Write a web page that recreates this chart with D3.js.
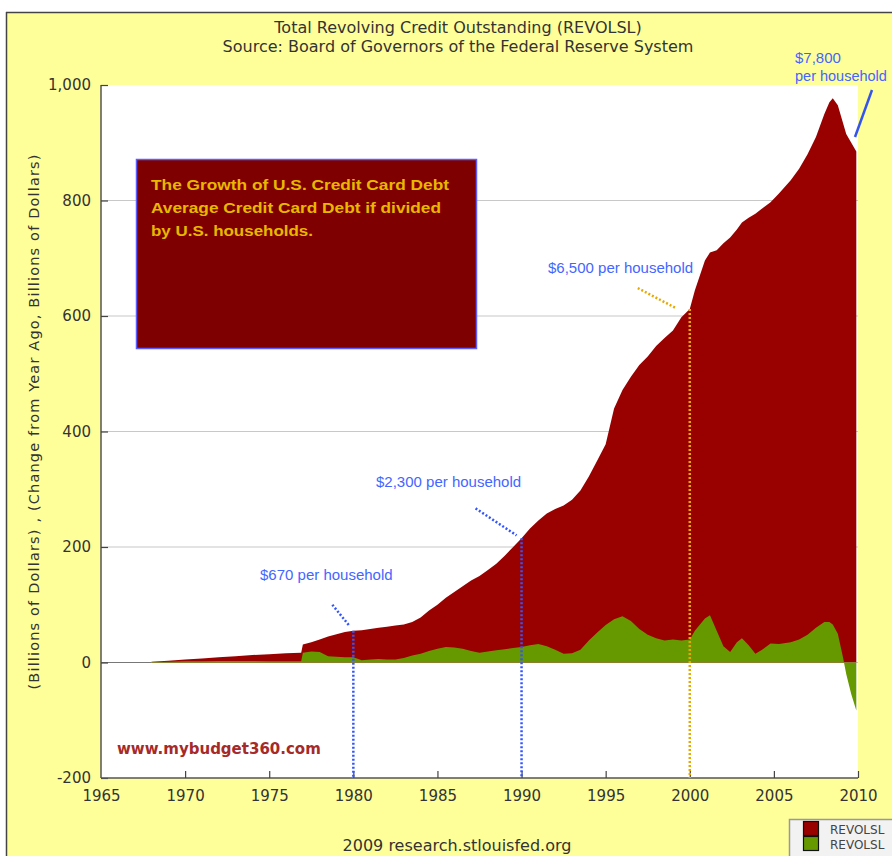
<!DOCTYPE html>
<html><head><meta charset="utf-8">
<script src="https://cdnjs.cloudflare.com/ajax/libs/d3/7.8.5/d3.min.js"></script>
<style>html,body{margin:0;padding:0;background:#fff;overflow:hidden;}svg{display:block;}</style>
</head><body>
<script>
// ---- data ----
const dates = [1968.0,1969.0,1970.0,1971.0,1972.0,1973.0,1974.0,1975.0,1976.0,1976.9,
  1977.0,1977.5,1978.0,1978.5,1979.0,1979.5,1980.0,1980.5,1981.0,1981.5,1982.0,1982.5,1983.0,1983.5,
  1984.0,1984.5,1985.0,1985.5,1986.0,1986.5,1987.0,1987.5,1988.0,1988.5,1989.0,1989.5,1990.0,1990.5,
  1991.0,1991.5,1992.0,1992.5,1993.0,1993.5,1994.0,1994.5,1995.0,1995.5,1996.0,1996.5,1997.0,1997.5,
  1998.0,1998.5,1999.0,1999.5,2000.0,2000.3,2000.9,2001.2,2001.6,2002.0,2002.4,2002.8,2003.1,2003.5,
  2003.9,2004.3,2004.8,2005.3,2006.0,2006.5,2007.0,2007.5,2008.0,2008.3,2008.5,2008.8,2009.1,2009.3,2009.6,2009.9];
const revolsl = [1.5,3,5,7,9,11,13,14.5,16,17,
  31,35,40,45,49,53,55,56,58,60,62,64,66,70,
  78,90,100,112,122,132,142,150,160,171,185,200,215,232,
  246,258,266,272,282,298,322,350,378,440,472,495,515,530,
  548,562,575,598,612,644,696,710,714,726,736,750,762,770,
  777,786,797,812,835,855,880,910,950,970,977,965,935,915,900,885];
const changeYoY = [1,1.5,2,2,2.5,2.5,2.5,2,2,2,
  17,19,18,11,10,9,9,4,5,6,5,5,8,12,
  15,20,24,27,26,24,20,17,19,21,23,25,27,30,
  32,28,22,15,16,22,38,52,65,75,80,72,58,48,
  42,38,40,38,40,55,76,82,55,28,18,35,42,30,
  15,22,33,32,35,40,48,60,70,70,66,50,10,-20,-55,-83];
const xTicks = [1965,1970,1975,1980,1985,1990,1995,2000,2005,2010];
const yTicks = [-200,0,200,400,600,800,1000];
const annYears = [1980,1990,2000];
const annValues = [55,215,612];
const annLabels = ["$670 per household","$2,300 per household","$6,500 per household"];
const titleLines = ["Total Revolving Credit Outstanding (REVOLSL)","Source: Board of Governors of the Federal Reserve System"];
const boxLines = ["The Growth of U.S. Credit Card Debt","Average Credit Card Debt if divided","by U.S. households."];
const legendLabels = ["REVOLSL","REVOLSL"];

// ---- drawing ----
const W = 892, H = 856;
const svg = d3.select("body").append("svg").attr("width", W).attr("height", H);
const FONT = "'DejaVu Sans', Verdana, sans-serif";
const AFONT = "'Liberation Sans', Arial, sans-serif";

svg.append("rect").attr("x",0).attr("y",0).attr("width",W).attr("height",H).attr("fill","#fff");
svg.append("rect").attr("x",6).attr("y",12).attr("width",W-6).attr("height",H-12).attr("fill","#ffff99");
svg.append("line").attr("x1",6).attr("x2",W).attr("y1",12.5).attr("y2",12.5).attr("stroke","#444").attr("stroke-width",1.5);
svg.append("line").attr("x1",6.5).attr("x2",6.5).attr("y1",12).attr("y2",H).attr("stroke","#444").attr("stroke-width",1.5);

const L = 101, R = 858, T = 85, B = 778;
const x = d3.scaleLinear().domain([1965,2010]).range([L,R]);
const y = d3.scaleLinear().domain([-200,1000]).range([B,T]);

svg.append("rect").attr("x",L).attr("y",T).attr("width",R-L).attr("height",B-T).attr("fill","#fff");

// title
svg.selectAll("text.title").data(titleLines).join("text")
  .attr("x",458).attr("y",(d,i)=>33+i*19).attr("text-anchor","middle")
  .attr("font-family",FONT).attr("font-size",16).attr("fill","#333").text(d=>d);

// grid
svg.append("g").selectAll("line").data(yTicks.filter(v=>v>-200 && v<1000)).join("line")
  .attr("x1",L).attr("x2",R).attr("y1",d=>y(d)).attr("y2",d=>y(d))
  .attr("stroke","#c8c8c8").attr("stroke-width",1.2);

// areas
const data = dates.map((d,i)=>({d, r:revolsl[i], c:changeYoY[i]}));
svg.append("path").datum(data)
  .attr("d", d3.area().x(p=>x(p.d)).y0(y(0)).y1(p=>y(p.r)))
  .attr("fill","#990000");
svg.append("path").datum(data)
  .attr("d", d3.area().x(p=>x(p.d)).y0(y(0)).y1(p=>y(p.c)))
  .attr("fill","#669900");
svg.append("line").attr("x1",L).attr("x2",x(1968)).attr("y1",y(0)).attr("y2",y(0)).attr("stroke","#777");

// axes
const fmt = d => d3.format(",")(d).replace("\u2212","-");
const yAxis = d3.axisLeft(y).tickValues(yTicks).tickSize(-7).tickPadding(10).tickFormat(fmt);
const gy = svg.append("g").attr("transform",`translate(${L},0)`).call(yAxis);
const xAxis = d3.axisBottom(x).tickValues(xTicks).tickSize(-7).tickPadding(12).tickFormat(d3.format("d"));
const gx = svg.append("g").attr("transform",`translate(0,${B})`).call(xAxis);
[gy,gx].forEach(g=>{
  g.select(".domain").attr("stroke","#555").attr("stroke-width",1.5);
  g.selectAll(".tick line").attr("stroke","#444").attr("stroke-width",1.2);
  g.selectAll(".tick text").attr("font-family",FONT).attr("font-size",15).attr("fill","#333");
});
gy.select(".domain").attr("d",`M0,${T}V${B}`);
gx.select(".domain").attr("d",`M${L},0H${R}`);
gx.selectAll(".tick").filter(d=>d===1965).select("line").remove();

// y-axis title
svg.append("text").attr("transform","translate(39,422) rotate(-90)").attr("text-anchor","middle")
  .attr("font-family",FONT).attr("font-size",14.5).attr("fill","#333")
  .attr("textLength",535).attr("lengthAdjust","spacing")
  .text("(Billions of Dollars) , (Change from Year Ago, Billions of Dollars)");

// annotations
const annDot = ["#3355ff","#3355ff","#e8a800"];
const diag = [[-21,-26,-4,-5],[-46,-30,-5,-3],[-52,-21,-14,-1]];
const lblPos = [[260,580],[376,487],[548,273]];
annYears.forEach((yr,i)=>{
  const ax = x(yr), ay = y(annValues[i]);
  svg.append("line").attr("x1",ax).attr("x2",ax).attr("y1",ay).attr("y2",B)
    .attr("stroke",annDot[i]).attr("stroke-width",2.5).attr("stroke-dasharray","2,2");
  svg.append("line").attr("x1",ax+diag[i][0]).attr("y1",ay+diag[i][1]).attr("x2",ax+diag[i][2]).attr("y2",ay+diag[i][3])
    .attr("stroke",annDot[i]).attr("stroke-width",2.5).attr("stroke-dasharray","2,2");
  svg.append("text").attr("x",lblPos[i][0]).attr("y",lblPos[i][1])
    .attr("font-family",AFONT).attr("font-size",15).attr("fill","#4466ff").text(annLabels[i]);
});
svg.append("text").attr("x",795).attr("y",63).attr("font-family",AFONT).attr("font-size",15).attr("fill","#4466ff").text("$7,800");
svg.append("text").attr("x",795).attr("y",81).attr("font-family",AFONT).attr("font-size",14.5).attr("fill","#4466ff").text("per household");
svg.append("line").attr("x1",872).attr("y1",90).attr("x2",855).attr("y2",137).attr("stroke","#3355ee").attr("stroke-width",2.5);

// text box
svg.append("rect").attr("x",136.5).attr("y",159.5).attr("width",340).attr("height",189)
  .attr("fill","#7f0000").attr("stroke","#5c5cff").attr("stroke-width",1.5);
const boxLen = [298,290,162];
svg.selectAll("text.box").data(boxLines).join("text")
  .attr("x",151).attr("y",(d,i)=>190+i*23)
  .attr("font-family",AFONT).attr("font-weight","bold").attr("font-size",15).attr("fill","#e8b800")
  .attr("textLength",(d,i)=>boxLen[i]).attr("lengthAdjust","spacingAndGlyphs").text(d=>d);

// watermark
svg.append("text").attr("x",117).attr("y",754).attr("font-family",FONT).attr("font-weight","bold")
  .attr("font-size",15).attr("fill","#a52a2a").text("www.mybudget360.com");

// footer
svg.append("text").attr("x",457).attr("y",851).attr("text-anchor","middle").attr("font-family",FONT)
  .attr("font-size",16).attr("fill","#333").text("2009 research.stlouisfed.org");

// legend
svg.append("rect").attr("x",789.5).attr("y",819.5).attr("width",120).attr("height",50)
  .attr("fill","#f2f2f2").attr("stroke","#999").attr("stroke-width",1.5);
const legColors = ["#990000","#669900"];
legendLabels.forEach((t,i)=>{
  svg.append("rect").attr("x",803.5).attr("y",821.5+i*15).attr("width",15).attr("height",14)
    .attr("fill",legColors[i]).attr("stroke","#111").attr("stroke-width",1.2);
  svg.append("text").attr("x",830).attr("y",834+i*15).attr("font-family",FONT).attr("font-size",12)
    .attr("fill","#444").text(t);
});
</script>
</body></html>
